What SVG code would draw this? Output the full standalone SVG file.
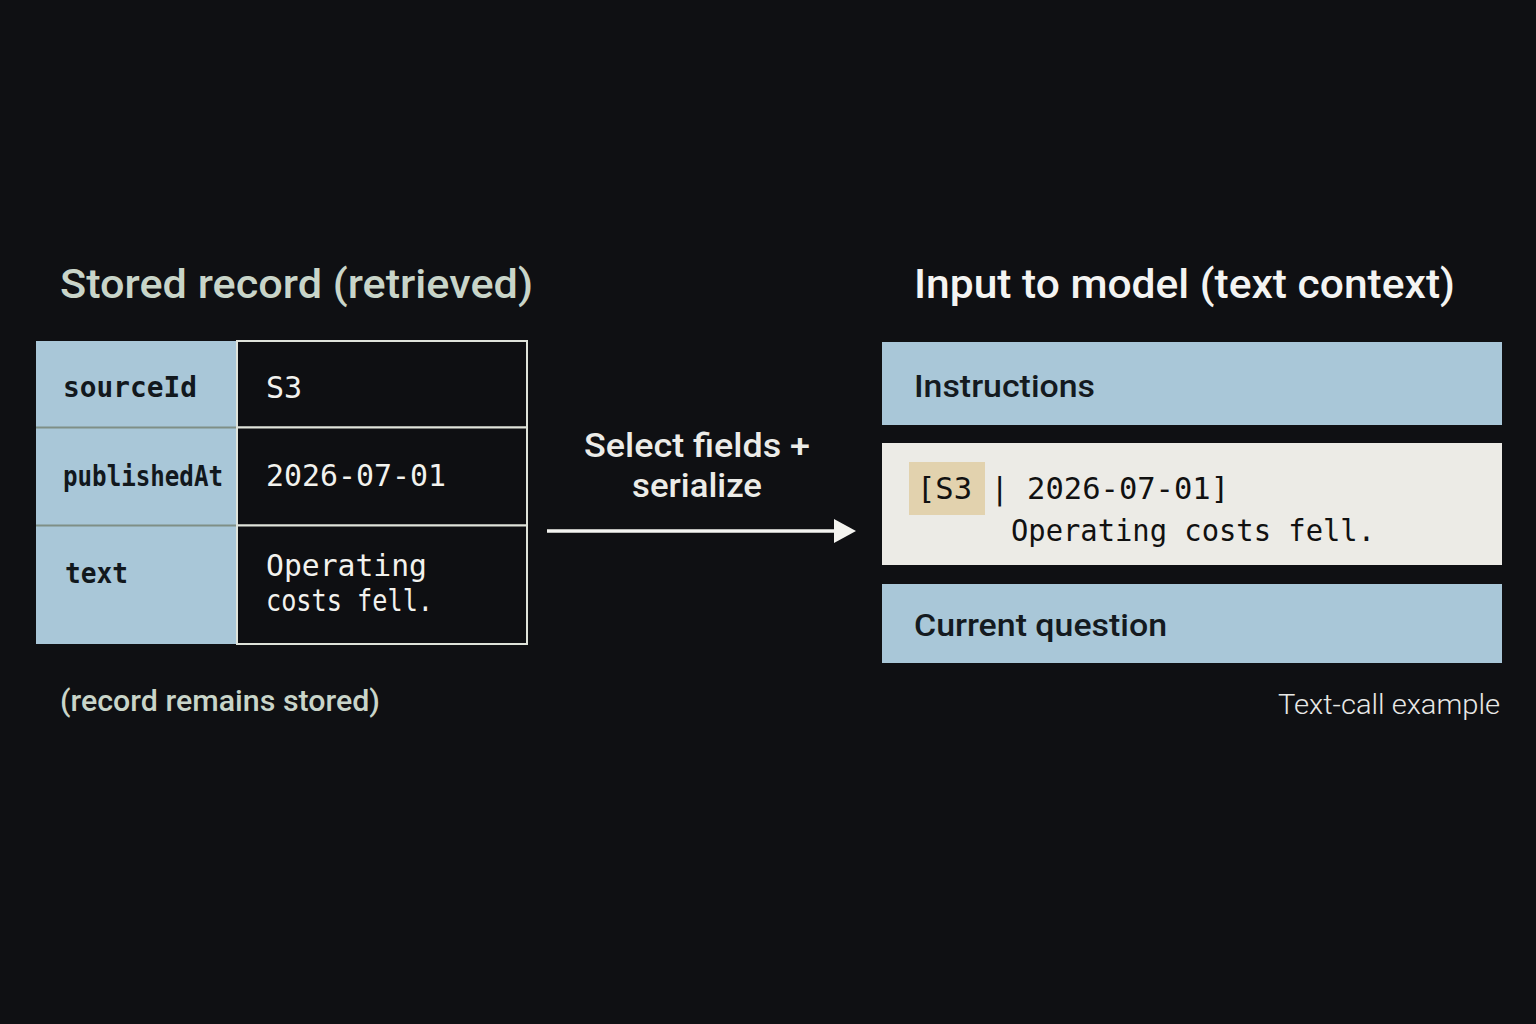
<svg xmlns="http://www.w3.org/2000/svg" width="1536" height="1024" viewBox="0 0 1536 1024">
<defs>
<style>
.sans{font-family:Roboto,"Noto Sans","Liberation Sans",sans-serif}
.mono{font-family:"DejaVu Sans Mono","Liberation Mono",monospace}
.title{font-size:40px;font-weight:500}
.key{font-size:28px;font-weight:bold;fill:#12181d}
.val{font-size:30px;fill:#f2f2ee}
.lbl{fill:#a9c7d8}
.cell{fill:#0e0f12;stroke:#dfe3da;stroke-width:2}
.box-text{font-size:32px;font-weight:500;fill:#141a20}
.ser{font-size:30px;fill:#111}
</style>
<marker id="ah" markerWidth="10" markerHeight="10" refX="9" refY="5" orient="auto" markerUnits="userSpaceOnUse" viewBox="0 0 10 10">
<path d="M0,0 L10,5 L0,10 z" fill="#f4f4f0"/>
</marker>
</defs>
<rect width="1536" height="1024" fill="#0f1013"/>

<text class="sans title" x="60" y="298" fill="#c9d5c9" textLength="473" lengthAdjust="spacingAndGlyphs">Stored record (retrieved)</text>
<text class="sans title" x="914" y="298" fill="#f4f4f2" textLength="541" lengthAdjust="spacingAndGlyphs">Input to model (text context)</text>

<g id="stored-record">
<rect class="lbl" x="36" y="341" width="201" height="303"/>
<line x1="36" y1="427.5" x2="237" y2="427.5" stroke="#7f8f86" stroke-width="2"/>
<line x1="36" y1="525.5" x2="237" y2="525.5" stroke="#7f8f86" stroke-width="2"/>
<rect class="cell" x="237" y="341" width="290" height="86.5"/>
<rect class="cell" x="237" y="427.5" width="290" height="98"/>
<rect class="cell" x="237" y="525.5" width="290" height="118.5"/>
<text class="mono key" x="63" y="397" textLength="134" lengthAdjust="spacingAndGlyphs">sourceId</text>
<text class="mono key" x="63" y="486" textLength="160" lengthAdjust="spacingAndGlyphs">publishedAt</text>
<text class="mono key" x="65" y="583" textLength="63" lengthAdjust="spacingAndGlyphs">text</text>
<text class="mono val" x="266" y="398">S3</text>
<text class="mono val" x="266" y="486" textLength="180" lengthAdjust="spacingAndGlyphs">2026-07-01</text>
<text class="mono val" x="266" y="576" textLength="161" lengthAdjust="spacingAndGlyphs">Operating</text>
<text class="mono val" x="266" y="611" textLength="167" lengthAdjust="spacingAndGlyphs">costs fell.</text>
</g>

<text class="sans" x="60" y="711" font-size="29" font-weight="500" fill="#c9d5c9" textLength="320" lengthAdjust="spacingAndGlyphs">(record remains stored)</text>

<g id="connectors">
<line x1="547" y1="531" x2="846" y2="531" stroke="#f4f4f0" stroke-width="3.5" marker-end="url(#ah)"/>
<path d="M834,519 L856,531 L834,543 z" fill="#f4f4f0"/>
</g>
<g id="arrow-label">
<text class="sans" x="697" y="457" font-size="34" font-weight="500" fill="#ececE8" text-anchor="middle" textLength="226" lengthAdjust="spacingAndGlyphs">Select fields +</text>
<text class="sans" x="697" y="497" font-size="34" font-weight="500" fill="#ececE8" text-anchor="middle" textLength="130" lengthAdjust="spacingAndGlyphs">serialize</text>
</g>

<g id="instructions">
<rect class="lbl" x="882" y="342" width="620" height="83"/>
<text class="sans box-text" x="914" y="397" textLength="181" lengthAdjust="spacingAndGlyphs">Instructions</text>
</g>
<g id="serialized">
<rect x="882" y="443" width="620" height="122" fill="#ecebe6"/>
<rect x="909" y="462" width="76" height="53" fill="#e2d2ae"/>
<text class="mono ser" x="917" y="499" textLength="312" lengthAdjust="spacingAndGlyphs">[S3 | 2026-07-01]</text>
<text class="mono ser" x="1011" y="541" textLength="364" lengthAdjust="spacingAndGlyphs">Operating costs fell.</text>
</g>
<g id="current-question">
<rect class="lbl" x="882" y="584" width="620" height="79"/>
<text class="sans box-text" x="914" y="636" textLength="253" lengthAdjust="spacingAndGlyphs">Current question</text>
</g>

<text class="sans" x="1500" y="714" font-size="27" font-weight="300" fill="#e8e8e6" text-anchor="end" textLength="222" lengthAdjust="spacingAndGlyphs">Text-call example</text>
</svg>
